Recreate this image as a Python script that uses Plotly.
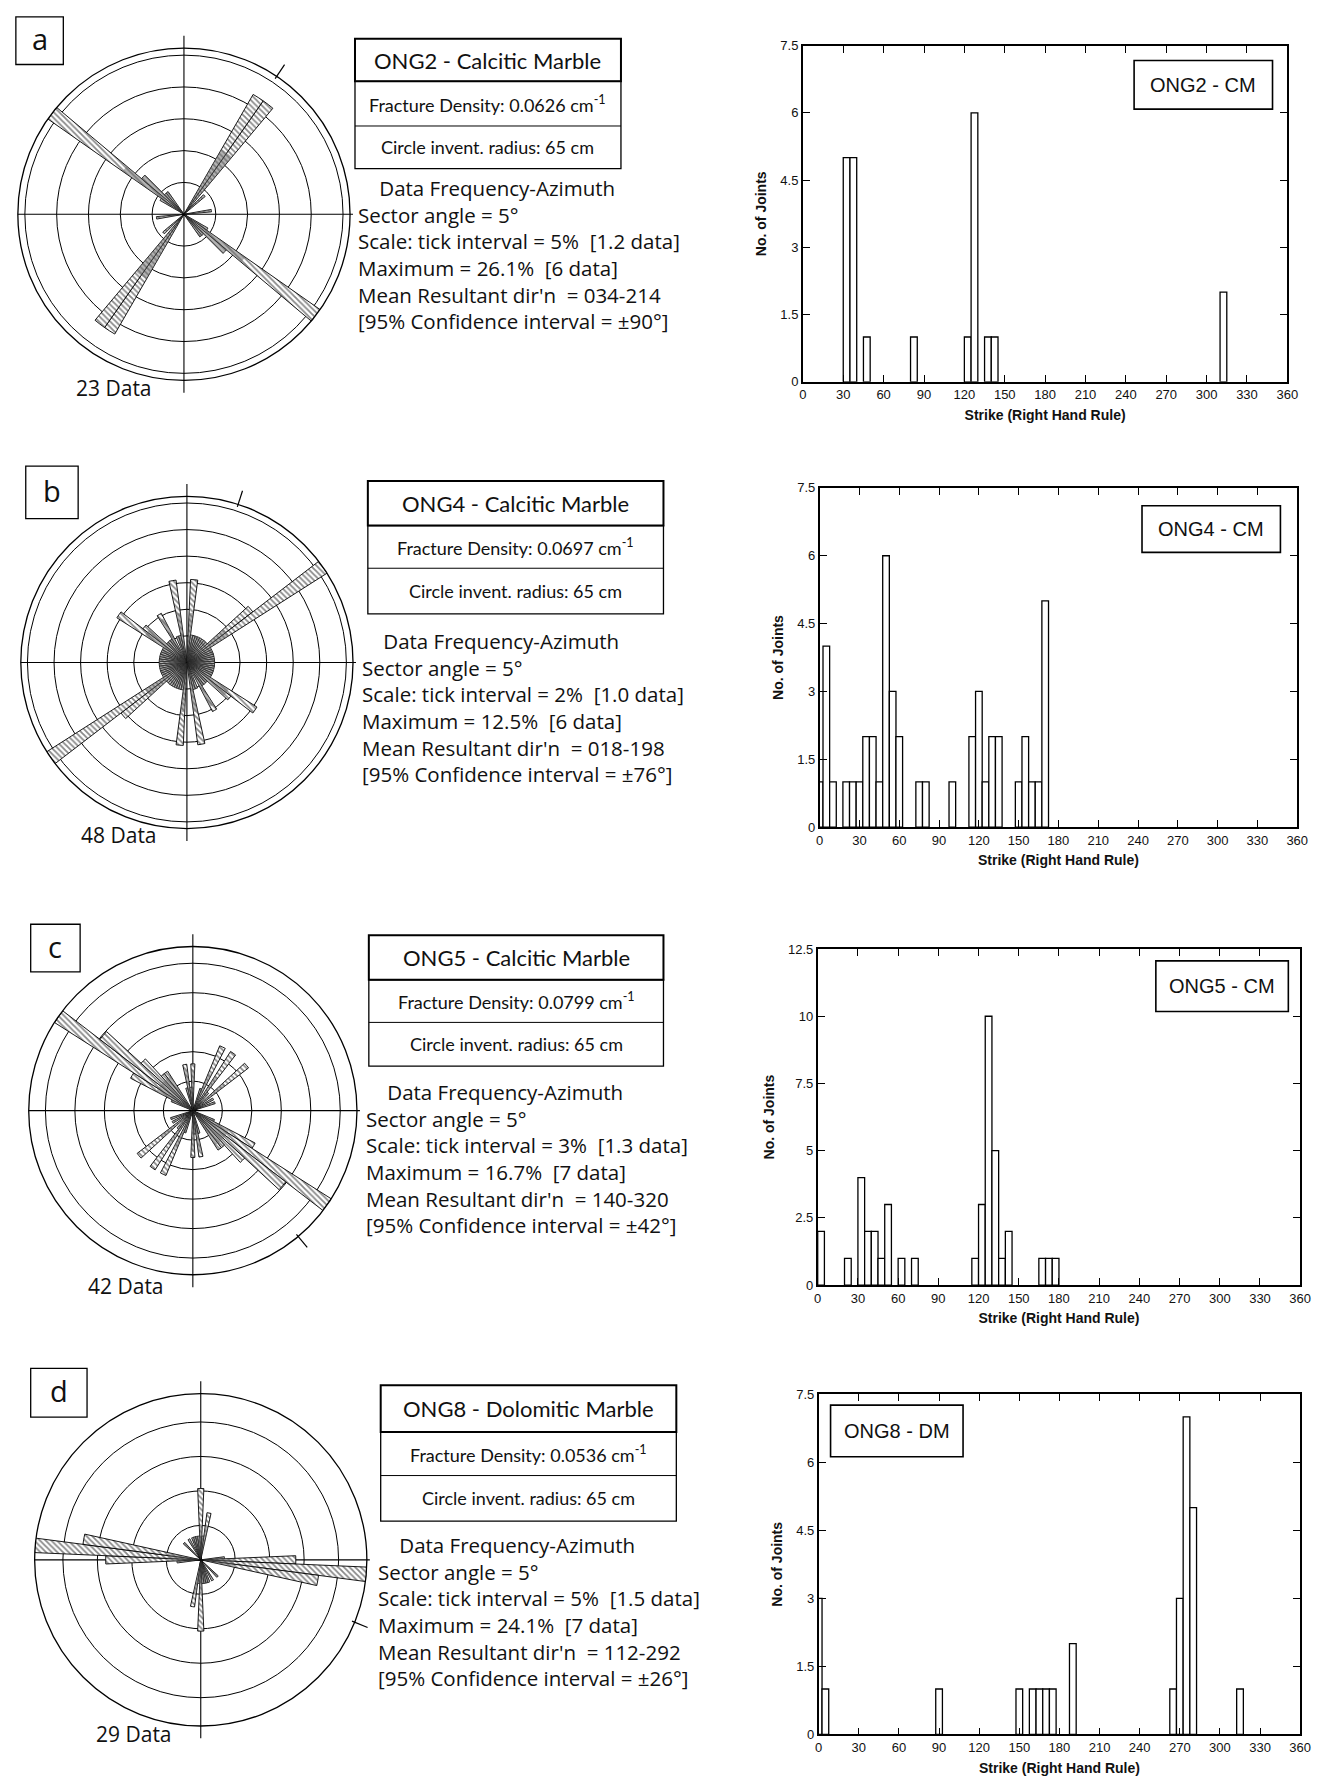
import math
import plotly.graph_objects as go

W, H = 1329, 1785

# ---------------- data ----------------
# Histograms: bin centre (strike, degrees) and number of joints in the 5 degree bin
strike_a = [32.5, 37.5, 47.5, 82.5, 122.5, 127.5, 137.5, 142.5, 312.5]
joints_a = [5, 5, 1, 1, 1, 6, 1, 1, 2]

strike_b = [0, 5, 10, 20, 25, 30, 35, 40, 45, 50, 55, 60, 75, 80, 100,
            115, 120, 125, 130, 135, 150, 155, 160, 165, 170]
joints_b = [1, 4, 1, 1, 1, 1, 2, 2, 1, 6, 3, 2, 1, 1, 1,
            2, 3, 1, 2, 2, 1, 2, 1, 1, 5]

strike_c = [2.5, 22.5, 32.5, 37.5, 42.5, 47.5, 52.5, 62.5, 72.5,
            117.5, 122.5, 127.5, 132.5, 137.5, 142.5, 167.5, 172.5, 177.5]
joints_c = [2, 1, 4, 2, 2, 1, 3, 1, 1, 1, 3, 10, 5, 1, 2, 1, 1, 1]

strike_d = [0, 5, 90, 150, 160, 165, 170, 175, 190, 265, 270, 275, 280, 315]
joints_d = [3, 1, 1, 1, 1, 1, 1, 1, 2, 1, 3, 7, 5, 1]

# Rose diagrams (axial data, 5 degree sectors): sector centre and count
rose_a_strike = [32.5, 37.5, 47.5, 82.5, 122.5, 127.5, 132.5, 137.5, 142.5]
rose_a_n = [5, 5, 1, 1, 1, 6, 2, 1, 1]

rose_b_strike = [5, 10, 15, 20, 25, 30, 35, 40, 45, 50, 55, 60, 65, 70, 75, 80,
                 85, 90, 95, 100, 105, 110, 115, 120, 125, 130, 135, 140, 145,
                 150, 160, 165, 170]
rose_b_n = [3, 1, 1, 1, 1, 1, 1, 1, 1, 3, 6, 1, 1, 1, 1, 1,
            1, 1, 1, 1, 1, 1, 1, 1, 3, 2, 1, 1, 1,
            2, 1, 1, 3]

rose_c_strike = [0, 20, 25, 35, 40, 50, 60, 70, 115, 120, 125, 130, 135, 140,
                 145, 165, 170, 175]
rose_c_n = [2, 1, 3, 3, 1, 3, 1, 1, 1, 3, 7, 5, 3, 2, 2, 1, 2, 1]

rose_d_strike = [0, 5, 10, 85, 90, 95, 100, 135, 150, 160, 165, 170, 175]
rose_d_n = [3, 1, 2, 1, 4, 7, 5, 1, 1, 1, 1, 1, 1]

# Summary statistics printed beside each rose
sample = ["ONG2", "ONG4", "ONG5", "ONG8"]
rock = ["Calcitic Marble", "Calcitic Marble", "Calcitic Marble", "Dolomitic Marble"]
rock_code = ["CM", "CM", "CM", "DM"]
fracture_density = ["0.0626", "0.0697", "0.0799", "0.0536"]
tick_interval = [5, 2, 3, 5]
tick_data = ["1.2", "1.0", "1.3", "1.5"]
maximum_pct = [26.1, 12.5, 16.7, 24.1]
maximum_data = [6, 6, 7, 7]
mean_dir = [34, 18, 140, 112]
confidence = [90, 76, 42, 26]
hist_ymax = [7.5, 7.5, 12.5, 7.5]
hist_dtick = [1.5, 1.5, 2.5, 1.5]

strikes = [strike_a, strike_b, strike_c, strike_d]
joints = [joints_a, joints_b, joints_c, joints_d]
rose_strikes = [rose_a_strike, rose_b_strike, rose_c_strike, rose_d_strike]
rose_counts = [rose_a_n, rose_b_n, rose_c_n, rose_d_n]

# ---------------- layout geometry (pixels) ----------------
geo = [
    dict(letter="a", lbox=(12, 10, 60, 58), cx=182, cy=209, R=168, haze=0.45,
         boxx=(355, 624), boxy=(32, 75, 120, 163), tx=356, ty=185,
         cnt=(71, 384), hist=(808, 1298, 39, 378), inset=(1143, 54, 1283, 103)),
    dict(letter="b", lbox=(22, 463, 75, 516), cx=185, cy=661, R=168, haze=0.3,
         boxx=(368, 667), boxy=(478, 523, 566, 612), tx=360, ty=641,
         cnt=(76, 835), hist=(825, 1308, 485, 827), inset=(1151, 503, 1291, 550)),
    dict(letter="c", lbox=(27, 925, 77, 973), cx=191, cy=1113, R=166, haze=0.25,
         boxx=(369, 667), boxy=(936, 981, 1024, 1068), tx=364, ty=1096,
         cnt=(83, 1290), hist=(823, 1311, 950, 1289), inset=(1165, 962, 1299, 1013)),
    dict(letter="d", lbox=(27, 1373, 84, 1422), cx=199, cy=1566, R=168, haze=0.2,
         boxx=(381, 680), boxy=(1390, 1437, 1481, 1527), tx=376, ty=1553,
         cnt=(91, 1742), hist=(824, 1311, 1399, 1742), inset=(836, 1410, 970, 1462)),
]


def fx(px):
    return px / W


def fy(py):
    return 1 - py / H


def label(text, x, y, size, family, xanchor="center", align="center"):
    return dict(text=text, x=fx(x), y=fy(y), xref="paper", yref="paper",
                showarrow=False, xanchor=xanchor, yanchor="middle", align=align,
                font=dict(family=family, size=size, color="#111"))


fig = go.Figure()
shapes = []
annots = []
TEXT_FONT = "Open Sans"
BOX_FONT = "Lato"
HIST_FONT = "Liberation Sans"
STATS_SIZE = 20.5
LINE_STEP = 1.3 * STATS_SIZE  # plotly's line spacing for multi-line text

for i, g in enumerate(geo):
    k = "" if i == 0 else str(i + 1)
    polar = "polar" + k
    cx, cy, R = g["cx"], g["cy"], g["R"]

    # ---- rose diagram (each strike plotted both ways) ----
    n_tot = sum(rose_counts[i])
    pct = [100.0 * n / n_tot for n in rose_counts[i]]
    theta = list(rose_strikes[i]) + [s + 180 for s in rose_strikes[i]]
    rr = pct + pct
    fig.add_trace(go.Barpolar(
        theta=theta, r=rr, width=5, subplot=polar, showlegend=False,
        hoverinfo="skip",
        marker=dict(color="white", line=dict(color="black", width=0.9),
                    pattern=dict(shape="\\", size=4, solidity=0.45,
                                 fgcolor="#111", bgcolor="white")),
    ))
    rmax = maximum_pct[i]
    hz = g["haze"] * rmax
    fig.add_trace(go.Barpolar(
        theta=theta, r=[min(v, hz) for v in rr], width=5, subplot=polar,
        showlegend=False, hoverinfo="skip",
        marker=dict(color="rgba(105,105,105,0.5)", line=dict(width=0)),
    ))
    ti = tick_interval[i]
    grid_vals = [ti * j for j in range(1, 20) if ti * j < rmax - 1e-9]
    fig.update_layout(**{polar: dict(
        domain=dict(x=[fx(cx - R), fx(cx + R)], y=[fy(cy + R), fy(cy - R)]),
        bgcolor="rgba(0,0,0,0)", barmode="overlay",
        radialaxis=dict(range=[0, rmax], tickvals=grid_vals, showticklabels=False,
                        ticks="", showline=False, gridcolor="black", gridwidth=1.2),
        angularaxis=dict(direction="clockwise", rotation=90, showgrid=False,
                         showticklabels=False, ticks="", showline=True,
                         linecolor="black", linewidth=1.3),
    )})

    # crosshair through the rose
    shapes.append(dict(type="line", xref="paper", yref="paper", layer="below",
                       x0=fx(cx), x1=fx(cx), y0=fy(cy - R - 12), y1=fy(cy + R + 12),
                       line=dict(color="black", width=1.1)))
    shapes.append(dict(type="line", xref="paper", yref="paper", layer="below",
                       x0=fx(cx - R), x1=fx(cx + R + 3), y0=fy(cy), y1=fy(cy),
                       line=dict(color="black", width=1.1)))
    # mean resultant direction marker outside the circle
    a = math.radians(mean_dir[i])
    shapes.append(dict(type="line", xref="paper", yref="paper",
                       x0=fx(cx + (R - 3) * math.sin(a)), y0=fy(cy - (R - 3) * math.cos(a)),
                       x1=fx(cx + (R + 14) * math.sin(a)), y1=fy(cy - (R + 14) * math.cos(a)),
                       line=dict(color="black", width=1.2)))

    # panel letter
    lx0, ly0, lx1, ly1 = g["lbox"]
    shapes.append(dict(type="rect", xref="paper", yref="paper", x0=fx(lx0), x1=fx(lx1),
                       y0=fy(ly1), y1=fy(ly0), line=dict(color="black", width=1.3)))
    annots.append(label(g["letter"], (lx0 + lx1) / 2, (ly0 + ly1) / 2 - 2, 29, TEXT_FONT))

    # "N Data" label
    annots.append(label(f"{n_tot} Data", g["cnt"][0], g["cnt"][1], 21, TEXT_FONT, "left"))

    # title boxes
    bx0, bx1 = g["boxx"]
    y0, y1, y2, y3 = g["boxy"]
    shapes.append(dict(type="rect", xref="paper", yref="paper", x0=fx(bx0), x1=fx(bx1),
                       y0=fy(y1), y1=fy(y0), line=dict(color="black", width=2)))
    shapes.append(dict(type="rect", xref="paper", yref="paper", x0=fx(bx0), x1=fx(bx1),
                       y0=fy(y3), y1=fy(y1), line=dict(color="black", width=1.3)))
    shapes.append(dict(type="line", xref="paper", yref="paper", x0=fx(bx0), x1=fx(bx1),
                       y0=fy(y2), y1=fy(y2), line=dict(color="black", width=1)))
    bxc = (bx0 + bx1) / 2
    annots.append(label(f"{sample[i]} - {rock[i]}", bxc, (y0 + y1) / 2, 22, BOX_FONT))
    annots.append(label(f"Fracture Density: {fracture_density[i]} cm<sup>-1</sup>",
                        bxc, (y1 + y2) / 2, 18, BOX_FONT))
    annots.append(label("Circle invent. radius: 65 cm", bxc, (y2 + y3) / 2, 18, BOX_FONT))

    # statistics text, one left-aligned block (first line indented)
    lines = [
        "\u00a0\u00a0\u00a0\u00a0Data Frequency-Azimuth",
        "Sector angle = 5°",
        f"Scale: tick interval = {tick_interval[i]}%  [{tick_data[i]} data]",
        f"Maximum = {maximum_pct[i]}%  [{maximum_data[i]} data]",
        f"Mean Resultant dir'n  = {mean_dir[i]:03d}-{mean_dir[i] + 180:03d}",
        f"[95% Confidence interval = ±{confidence[i]}°]",
    ]
    annots.append(label("<br>".join(lines), g["tx"], g["ty"] + 2.5 * 26,
                        STATS_SIZE, TEXT_FONT, "left", "left"))

    # ---- histogram ----
    hx0, hx1, hy0, hy1 = g["hist"]
    fig.add_trace(go.Bar(x=strikes[i], y=joints[i], width=5, xaxis="x" + k, yaxis="y" + k,
                         showlegend=False, hoverinfo="skip",
                         marker=dict(color="white", line=dict(color="black", width=1.3))))
    axis_common = dict(showline=True, linecolor="black", linewidth=1.7, mirror="ticks",
                       ticks="inside", ticklen=7, tickcolor="black", showgrid=False,
                       zeroline=False, tickfont=dict(family=HIST_FONT, size=13, color="#111"))
    fig.update_layout(**{
        "xaxis" + k: dict(domain=[fx(hx0), fx(hx1)], anchor="y" + k, range=[0, 360],
                          tickvals=list(range(0, 361, 30)),
                          title=dict(text="<b>Strike (Right Hand Rule)</b>", standoff=9,
                                     font=dict(family=HIST_FONT, size=14, color="#111")),
                          **axis_common),
        "yaxis" + k: dict(domain=[fy(hy1), fy(hy0)], anchor="x" + k,
                          range=[0, hist_ymax[i]], dtick=hist_dtick[i],
                          title=dict(text="<b>No. of Joints</b>", standoff=10,
                                     font=dict(family=HIST_FONT, size=14, color="#111")),
                          **axis_common),
    })
    ix0, iy0, ix1, iy1 = g["inset"]
    shapes.append(dict(type="rect", xref="paper", yref="paper", x0=fx(ix0), x1=fx(ix1),
                       y0=fy(iy1), y1=fy(iy0), line=dict(color="black", width=1.6),
                       fillcolor="white"))
    annots.append(label(f"{sample[i]} - {rock_code[i]}", (ix0 + ix1) / 2, (iy0 + iy1) / 2,
                        20, HIST_FONT))

fig.update_layout(
    width=W, height=H, margin=dict(l=0, r=0, t=0, b=0),
    paper_bgcolor="white", plot_bgcolor="white",
    shapes=shapes, annotations=annots, showlegend=False,
)
fig.write_html("out.html")
